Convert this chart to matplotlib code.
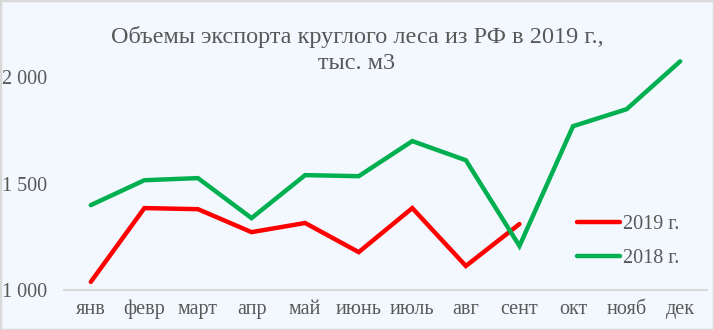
import matplotlib
matplotlib.use("Agg")
import matplotlib.pyplot as plt
from matplotlib.patches import Rectangle

months = ["янв", "февр", "март", "апр", "май", "июнь", "июль", "авг", "сент", "окт", "нояб", "дек"]
export_2019 = [1038, 1385, 1380, 1272, 1315, 1178, 1385, 1113, 1310]
export_2018 = [1399, 1516, 1526, 1338, 1540, 1535, 1700, 1610, 1207, 1770, 1850, 2075]
yticks = [1000, 1500, 2000]
ytick_labels = ["1 000", "1 500", "2 000"]

bg = "#F2F8FE"
txt = "#595959"

plt.rcParams["font.family"] = ["Liberation Serif", "DejaVu Serif"]

fig = plt.figure(figsize=(7.14, 3.30), dpi=100)
fig.patch.set_facecolor(bg)
fig.patches.append(Rectangle((0, 0), 1, 1, transform=fig.transFigure,
                             fill=False, edgecolor="#D9D9D9", linewidth=2.5))

ax = fig.add_axes([64 / 714, 40 / 330, 643 / 714, 234 / 330])
ax.set_facecolor(bg)

x19 = range(len(export_2019))
x18 = range(len(export_2018))
ax.plot(x19, export_2019, color="#FF0000", linewidth=3.2, solid_capstyle="round",
        solid_joinstyle="miter", label="2019 г.")
ax.plot(x18, export_2018, color="#00B050", linewidth=3.2, solid_capstyle="round",
        solid_joinstyle="miter", label="2018 г.")

ax.set_xlim(-0.5, 11.5)
ax.set_ylim(1000, 2100)
ax.set_xticks(range(len(months)))
ax.set_xticklabels(months)
ax.set_yticks(yticks)
ax.set_yticklabels(ytick_labels)
ax.tick_params(axis="both", length=0, labelsize=14.5, colors=txt)
ax.tick_params(axis="x", pad=7)
ax.tick_params(axis="y", pad=12)

for s in ["top", "right", "left"]:
    ax.spines[s].set_visible(False)
ax.spines["bottom"].set_color("#D9D9D9")
ax.spines["bottom"].set_linewidth(1.5)

leg = ax.legend(loc="center left", bbox_to_anchor=(577 / 714, 1 - 241.5 / 330),
                bbox_transform=fig.transFigure, frameon=False, borderpad=0,
                borderaxespad=0, fontsize=14.5, handlelength=2.15,
                handletextpad=0.15, labelspacing=0.75)
for t in leg.get_texts():
    t.set_color(txt)

fig.text(0.5, 1 - 50 / 330, "Объемы экспорта круглого леса из РФ в 2019 г.,\nтыс. м3",
         ha="center", va="center", fontsize=17.5, color=txt, linespacing=1.3)

fig.savefig("out.png", dpi=100, facecolor=bg)
